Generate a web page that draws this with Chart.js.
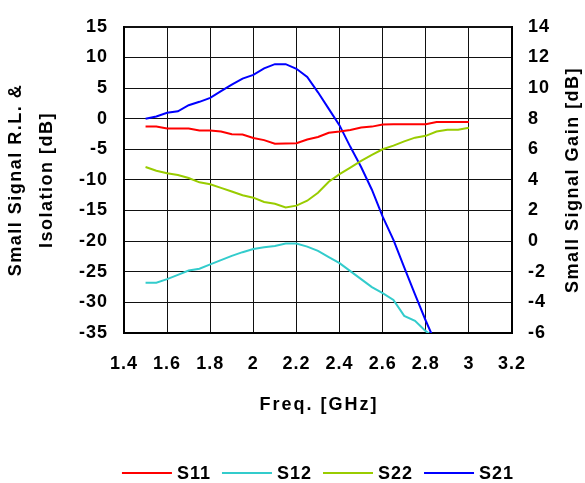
<!DOCTYPE html>
<html>
<head>
<meta charset="utf-8">
<script src="https://cdn.jsdelivr.net/npm/chart.js@4.4.1/dist/chart.umd.min.js"></script>
<style>
  html, body { margin: 0; padding: 0; background: #fff; }
  #wrap { width: 585px; height: 483px; position: relative; }
</style>
</head>
<body>
<div id="wrap"><canvas id="chart"></canvas></div>
<script>
const FONT = "'Liberation Sans', Arial, sans-serif";

// frequency points [GHz]
const freq = [1.50, 1.55, 1.60, 1.65, 1.70, 1.75, 1.80, 1.85, 1.90, 1.95,
              2.00, 2.05, 2.10, 2.15, 2.20, 2.25, 2.30, 2.35, 2.40, 2.45,
              2.50, 2.55, 2.60, 2.65, 2.70, 2.75, 2.80, 2.85, 2.90, 2.95, 3.00];

// left axis: return loss / isolation [dB]
const s11 = [-1.3, -1.3, -1.6, -1.6, -1.6, -1.95, -1.95, -2.1, -2.55, -2.6,
             -3.15, -3.5, -4.1, -4.05, -4.0, -3.4, -3.0, -2.3, -2.1, -1.85,
             -1.45, -1.3, -0.95, -0.9, -0.9, -0.9, -0.9, -0.55, -0.55, -0.55, -0.55];
const s12 = [-26.8, -26.8, -26.2, -25.5, -24.8, -24.5, -23.8, -23.1, -22.4, -21.8,
             -21.3, -21.0, -20.8, -20.4, -20.4, -20.9, -21.6, -22.6, -23.6, -24.9,
             -26.2, -27.5, -28.5, -29.6, -32.2, -33.0, -34.7, -36.0, null, null, null];
const s22 = [-7.9, -8.5, -8.9, -9.2, -9.7, -10.4, -10.7, -11.3, -11.9, -12.5,
             -12.9, -13.6, -13.9, -14.5, -14.2, -13.4, -12.1, -10.3, -9.05, -8.0,
             -6.9, -5.9, -5.0, -4.4, -3.7, -3.1, -2.8, -2.1, -1.8, -1.8, -1.5];

// right axis: gain [dB]
const s21 = [8.0, 8.14, 8.38, 8.48, 8.88, 9.1, 9.36, 9.8, 10.22, 10.62,
             10.86, 11.28, 11.56, 11.56, 11.26, 10.72, 9.72, 8.64, 7.56, 6.16,
             4.84, 3.36, 1.6, 0.08, -1.72, -3.48, -5.2, -6.8, null, null, null];

const xRange  = [1.4, 3.2, 0.2];
const yRange  = [-35, 15, 5];
const y1Range = [-6, 14, 2];

const pts = arr => freq.map((f, i) => ({ x: f, y: arr[i] }));

const lineDs = (label, arr, color, axis) => ({
  label, data: pts(arr), yAxisID: axis,
  borderColor: color, backgroundColor: color,
  borderWidth: 2, pointRadius: 0, tension: 0, fill: false, spanGaps: false, clip: 0,
});

const spacing = {
  id: 'spacing',
  beforeUpdate(chart) { chart.ctx.letterSpacing = '1px'; },
  beforeDraw(chart)   { chart.ctx.letterSpacing = '1px'; },
};

const titles = {
  id: 'titles',
  afterDraw(chart) {
    const { ctx, chartArea: a } = chart;
    const midY = (a.top + a.bottom) / 2;
    const midX = (a.left + a.right) / 2;
    ctx.save();
    ctx.fillStyle = '#000';
    ctx.font = `bold 18px ${FONT}`;
    ctx.letterSpacing = '1.5px';
    ctx.textAlign = 'center';
    ctx.textBaseline = 'alphabetic';
    const vert = (x, text) => {
      ctx.save();
      ctx.translate(x, midY);
      ctx.rotate(-Math.PI / 2);
      ctx.fillText(text, 0, 0);
      ctx.restore();
    };
    vert(21, 'Small Signal R.L. &');
    vert(52, 'Isolation [dB]');
    vert(578, 'Small Signal Gain [dB]');
    ctx.textBaseline = 'middle';
    ctx.letterSpacing = '2px';
    ctx.fillText('Freq. [GHz]', midX + 1, 405);

    // legend
    ctx.letterSpacing = '1px';
    ctx.textAlign = 'left';
    const items = chart.data.datasets;
    const lineLen = 50, gap = 5, itemGap = 11;
    const widths = items.map(d => lineLen + gap + ctx.measureText(d.label).width);
    const total = widths.reduce((s, w) => s + w, 0) + itemGap * (items.length - 1);
    let x = midX - total / 2;
    const ly = 473;
    items.forEach((d, i) => {
      ctx.strokeStyle = d.borderColor;
      ctx.lineWidth = 2;
      ctx.beginPath();
      ctx.moveTo(x, ly);
      ctx.lineTo(x + lineLen, ly);
      ctx.stroke();
      ctx.fillText(d.label, x + lineLen + gap, ly + 1);
      x += widths[i] + itemGap;
    });
    ctx.restore();
  },
};

const tickFont = { family: FONT, size: 18, weight: 'bold' };

new Chart(document.getElementById('chart'), {
  type: 'line',
  data: {
    datasets: [
      lineDs('S11', s11, '#ff0000', 'y'),
      lineDs('S12', s12, '#33cccc', 'y'),
      lineDs('S22', s22, '#99cc00', 'y'),
      lineDs('S21', s21, '#0000ff', 'y1'),
    ],
  },
  options: {
    responsive: true, maintainAspectRatio: false, animation: false,
    layout: { padding: { top: 19, left: 0, right: 0, bottom: 0 } },
    plugins: { legend: { display: false }, tooltip: { enabled: false } },
    scales: {
      x: {
        type: 'linear', min: xRange[0], max: xRange[1],
        afterFit: s => { s.height = 150; },
        ticks: { stepSize: xRange[2], color: '#000', font: tickFont, padding: 20,
                 callback: v => String(+v.toFixed(1)) },
        grid: { color: '#111', lineWidth: 1, drawTicks: false },
        border: { color: '#000', width: 2 },
      },
      y: {
        position: 'left', min: yRange[0], max: yRange[1],
        afterFit: s => { s.width = 124; },
        ticks: { stepSize: yRange[2], color: '#000', font: tickFont, padding: 16 },
        grid: { color: '#111', lineWidth: c => (c.tick && c.tick.value === yRange[1] ? 2 : 1), drawTicks: false },
        border: { color: '#000', width: 2 },
      },
      y1: {
        position: 'right', min: y1Range[0], max: y1Range[1],
        afterFit: s => { s.width = 73; },
        ticks: { stepSize: y1Range[2], color: '#000', font: tickFont, padding: 16 },
        grid: { drawOnChartArea: false, drawTicks: false },
        border: { color: '#000', width: 2 },
      },
    },
  },
  plugins: [spacing, titles],
});
</script>
</body>
</html>
